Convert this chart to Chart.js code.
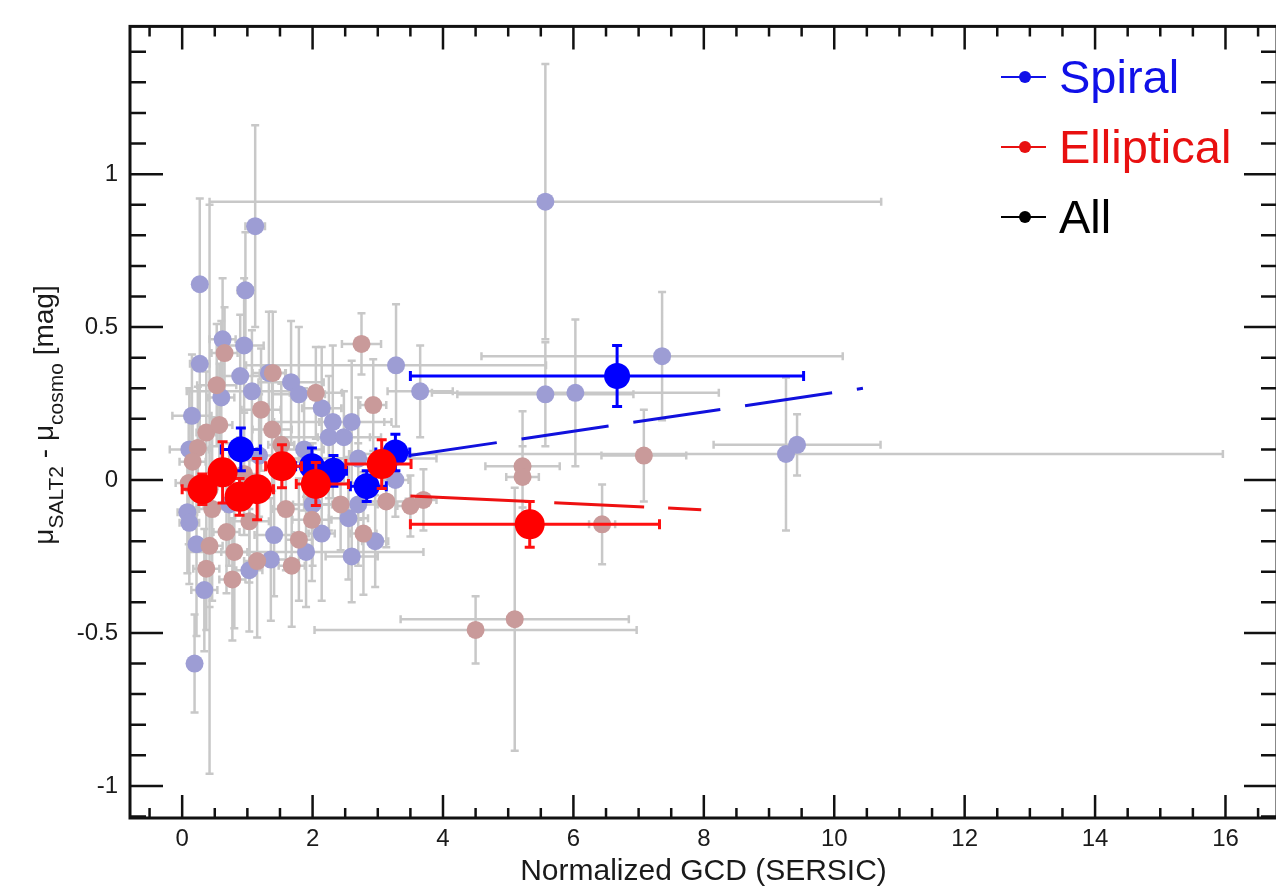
<!DOCTYPE html>
<html>
<head>
<meta charset="utf-8">
<script src="https://cdn.jsdelivr.net/npm/chart.js@4.4.1/dist/chart.umd.min.js"></script>
<style>
  html, body { margin: 0; padding: 0; background: #fff; overflow: hidden; }
  #wrap { width: 1292px; height: 890px; }
</style>
</head>
<body>
<div id="wrap"><canvas id="chart" width="1292" height="890"></canvas></div>
<script>
// individual spiral hosts (x, y, symmetric errors)
const spiralX = [5.57, 1.12, 0.27, 0.97, 0.62, 0.95, 0.27, 0.89, 1.07, 1.67, 1.79, 2.14, 3.28, 3.65, 0.15, 0.60, 2.31, 2.60, 2.25, 2.48, 1.87, 3.27, 0.08, 1.41, 2.14, 2.60, 2.96, 2.55, 0.34, 0.19, 0.22, 1.36, 1.90, 1.03, 5.57, 6.03, 7.36, 9.26, 9.43, 0.11, 1.33, 1.18, 2.70, 2.70, 0.72, 2.00, 0.11];
const spiralY = [0.91, 0.83, 0.64, 0.62, 0.46, 0.44, 0.38, 0.34, 0.29, 0.32, 0.28, 0.235, 0.375, 0.29, 0.21, 0.27, 0.19, 0.19, 0.14, 0.14, 0.10, 0.00, -0.105, -0.18, -0.175, -0.25, -0.20, -0.125, -0.36, -0.60, -0.21, -0.26, -0.235, -0.295, 0.28, 0.285, 0.405, 0.085, 0.115, 0.10, 0.35, 0.08, 0.07, -0.08, -0.08, -0.08, -0.14];
const spiralXErr = [5.15, 0.15, 0.10, 0.12, 0.20, 0.30, 0.15, 0.30, 1.00, 0.50, 0.40, 0.30, 2.30, 0.50, 0.30, 0.20, 0.90, 0.50, 0.80, 0.40, 0.30, 0.20, 0.15, 0.30, 0.20, 0.40, 0.20, 0.30, 0.20, 0.05, 0.10, 0.30, 1.80, 0.20, 1.35, 2.20, 2.77, 6.70, 1.28, 0.30, 0.25, 0.30, 1.20, 0.30, 0.25, 0.30, 0.15];
const spiralYErr = [0.45, 0.33, 0.28, 0.19, 0.20, 0.22, 0.25, 0.20, 0.20, 0.20, 0.22, 0.20, 0.20, 0.15, 0.20, 0.25, 0.25, 0.20, 0.20, 0.15, 0.20, 0.12, 0.20, 0.20, 0.22, 0.15, 0.15, 0.20, 0.20, 0.16, 0.30, 0.20, 0.18, 0.20, 0.17, 0.24, 0.21, 0.25, 0.10, 0.20, 0.20, 0.20, 0.20, 0.20, 0.20, 0.20, 0.20];

// individual elliptical hosts
const ellipX = [2.75, 0.65, 0.53, 1.39, 1.21, 2.05, 2.93, 0.37, 0.24, 0.16, 1.38, 1.52, 0.46, 1.59, 1.99, 3.13, 3.50, 3.70, 2.43, 0.68, 1.03, 1.79, 2.78, 0.80, 0.42, 1.68, 0.37, 0.77, 1.15, 4.50, 5.10, 5.22, 5.22, 6.44, 7.08, 0.42, 0.95, 2.25, 0.10, 0.57];
const ellipY = [0.445, 0.415, 0.31, 0.35, 0.23, 0.285, 0.245, 0.155, 0.105, 0.06, 0.165, 0.115, -0.095, -0.095, -0.13, -0.07, -0.085, -0.065, -0.08, -0.17, -0.135, -0.195, -0.175, -0.235, -0.215, -0.28, -0.29, -0.325, -0.265, -0.49, -0.455, 0.045, 0.01, -0.145, 0.08, -0.03, 0.02, 0.035, -0.01, 0.18];
const ellipXErr = [0.30, 0.20, 0.30, 0.20, 0.30, 0.40, 0.20, 0.15, 0.20, 0.20, 0.30, 0.20, 0.20, 0.20, 0.30, 0.30, 0.20, 0.20, 0.30, 0.20, 0.30, 0.20, 0.20, 0.20, 0.20, 0.20, 0.20, 0.20, 0.20, 2.47, 1.75, 0.57, 0.25, 0.20, 0.65, 0.10, 0.20, 0.30, 0.20, 0.20];
const ellipYErr = [0.10, 0.15, 0.20, 0.20, 0.20, 0.15, 0.15, 0.20, 0.20, 0.15, 0.20, 0.20, 0.30, 0.20, 0.20, 0.15, 0.10, 0.10, 0.15, 0.20, 0.20, 0.20, 0.20, 0.25, 0.20, 0.20, 0.20, 0.20, 0.25, 0.11, 0.43, 0.18, 0.10, 0.13, 0.15, 0.93, 0.20, 0.20, 0.20, 0.20];

// binned means
const spiralBinX = [0.90, 1.99, 2.32, 2.83, 3.27, 6.67];
const spiralBinY = [0.10, 0.045, 0.03, -0.02, 0.09, 0.34];
const spiralBinXLo = [0.30, 0.25, 0.20, 0.25, 0.30, 3.17];
const spiralBinXHi = [0.30, 0.25, 0.20, 0.30, 0.22, 2.86];
const spiralBinYErr = [0.07, 0.06, 0.05, 0.05, 0.06, 0.10];

const ellipBinX = [0.31, 0.62, 0.88, 1.15, 1.53, 2.05, 3.06, 5.33];
const ellipBinY = [-0.03, 0.025, -0.055, -0.03, 0.045, -0.013, 0.052, -0.145];
const ellipBinXLo = [0.31, 0.12, 0.13, 0.15, 0.25, 0.30, 0.55, 1.83];
const ellipBinXHi = [0.12, 0.13, 0.15, 0.25, 0.30, 0.50, 0.45, 1.99];
const ellipBinYErr = [0.05, 0.10, 0.06, 0.10, 0.07, 0.07, 0.08, 0.075];

// linear fits
const spiralFitX = [3.49, 10.44];
const spiralFitY = [0.08, 0.30];
const ellipFitX = [3.50, 7.96];
const ellipFitY = [-0.052, -0.097];

// axes
const xMajorTicks = [0, 2, 4, 6, 8, 10, 12, 14, 16];
const yMajorTicks = [-1, -0.5, 0, 0.5, 1];
const legendLabels = ['Spiral', 'Elliptical', 'All'];
const legendColors = ['#1010e8', '#e81010', '#000000'];

const FONT = "'Liberation Sans', Arial, Helvetica, sans-serif";

function pts(xs, ys) {
    return xs.map((x, i) => ({ x: x, y: ys[i] }));
}

// error bars drawn through the scales
function drawErrorBars(chart, ds) {
    const eb = ds.errorBars;
    if (!eb) return;
    const { ctx, chartArea: a } = chart;
    const sx = chart.scales.x, sy = chart.scales.y;
    ctx.save();
    ctx.beginPath();
    ctx.rect(a.left, a.top, a.right - a.left, a.bottom - a.top);
    ctx.clip();
    ctx.strokeStyle = eb.color;
    ctx.lineWidth = eb.width;
    ctx.beginPath();
    ds.data.forEach((p, k) => {
        const px = sx.getPixelForValue(p.x);
        const py = sy.getPixelForValue(p.y);
        const x0 = sx.getPixelForValue(p.x - eb.xlo[k]);
        const x1 = sx.getPixelForValue(p.x + eb.xhi[k]);
        const y0 = sy.getPixelForValue(p.y - eb.y[k]);
        const y1 = sy.getPixelForValue(p.y + eb.y[k]);
        const c = eb.cap;
        ctx.moveTo(x0, py); ctx.lineTo(x1, py);
        ctx.moveTo(x0, py - c); ctx.lineTo(x0, py + c);
        ctx.moveTo(x1, py - c); ctx.lineTo(x1, py + c);
        ctx.moveTo(px, y0); ctx.lineTo(px, y1);
        ctx.moveTo(px - c, y0); ctx.lineTo(px + c, y0);
        ctx.moveTo(px - c, y1); ctx.lineTo(px + c, y1);
    });
    ctx.stroke();
    ctx.restore();
}

const errorBarPlugin = {
    id: 'errorBars',
    beforeDatasetsDraw(chart) {
        chart.data.datasets.forEach(ds => {
            if (ds.errorBars && ds.errorBars.behind) drawErrorBars(chart, ds);
        });
    },
    beforeDatasetDraw(chart, args) {
        const ds = chart.data.datasets[args.index];
        if (ds.errorBars && !ds.errorBars.behind) drawErrorBars(chart, ds);
    }
};

// frame with inward ticks on all four sides, y title, legend
const framePlugin = {
    id: 'frame',
    afterDatasetsDraw(chart) {
        const { ctx, chartArea: a } = chart;
        const sx = chart.scales.x, sy = chart.scales.y;
        ctx.save();
        ctx.strokeStyle = '#111';
        ctx.lineWidth = 2.5;
        ctx.beginPath();
        for (let v = -0.5; v <= 16.75; v += 0.5) {
            const px = sx.getPixelForValue(v);
            const len = xMajorTicks.includes(v) ? 23 : 10;
            ctx.moveTo(px, a.bottom); ctx.lineTo(px, a.bottom - len);
            ctx.moveTo(px, a.top); ctx.lineTo(px, a.top + len);
        }
        for (let i = -11; i <= 14; i++) {
            const v = i / 10;
            const py = sy.getPixelForValue(v);
            const len = (i % 5 === 0) ? 33 : 16;
            ctx.moveTo(a.left, py); ctx.lineTo(a.left + len, py);
            ctx.moveTo(a.right, py); ctx.lineTo(a.right - len, py);
        }
        ctx.stroke();
        ctx.lineWidth = 3;
        ctx.strokeRect(a.left, a.top, a.right - a.left, a.bottom - a.top);
        ctx.restore();
    },
    afterDraw(chart) {
        const ctx = chart.ctx;
        ctx.save();
        // y axis title with subscripts
        const parts = [['\u03bc', 0], ['SALT2', 1], [' - ', 0], ['\u03bc', 0], ['cosmo', 1], [' [mag]', 0]];
        const mainFont = '28px ' + FONT, subFont = '21px ' + FONT;
        let total = 0;
        parts.forEach(p => { ctx.font = p[1] ? subFont : mainFont; total += ctx.measureText(p[0]).width; });
        ctx.translate(53, 415);
        ctx.rotate(-Math.PI / 2);
        ctx.fillStyle = '#1a1a1a';
        ctx.textBaseline = 'alphabetic';
        let u = -total / 2;
        parts.forEach(p => {
            ctx.font = p[1] ? subFont : mainFont;
            ctx.fillText(p[0], u, p[1] ? 10 : 0);
            u += ctx.measureText(p[0]).width;
        });
        ctx.restore();

        // legend
        ctx.save();
        ctx.font = '47px ' + FONT;
        ctx.textBaseline = 'alphabetic';
        legendLabels.forEach((lab, i) => {
            const cy = 77 + i * 70;
            ctx.strokeStyle = legendColors[i];
            ctx.fillStyle = legendColors[i];
            ctx.lineWidth = 2;
            ctx.beginPath();
            ctx.moveTo(1001, cy); ctx.lineTo(1046, cy);
            ctx.stroke();
            ctx.beginPath();
            ctx.arc(1025, cy, 6, 0, Math.PI * 2);
            ctx.fill();
            ctx.fillText(lab, 1059, cy + 16);
        });
        ctx.restore();
    }
};

const ctx = document.getElementById('chart').getContext('2d');
new Chart(ctx, {
    type: 'scatter',
    data: {
        datasets: [
            {
                label: 'Elliptical bins',
                data: pts(ellipBinX, ellipBinY),
                backgroundColor: '#ff0000',
                pointRadius: 15,
                pointBorderWidth: 0,
                order: 0,
                errorBars: { xlo: ellipBinXLo, xhi: ellipBinXHi, y: ellipBinYErr, color: '#ff1010', width: 3, cap: 5, behind: false }
            },
            {
                label: 'Spiral bins',
                data: pts(spiralBinX, spiralBinY),
                backgroundColor: '#0000ff',
                pointRadius: 13,
                pointBorderWidth: 0,
                order: 1,
                errorBars: { xlo: spiralBinXLo, xhi: spiralBinXHi, y: spiralBinYErr, color: '#0000ff', width: 3, cap: 5, behind: false }
            },
            {
                label: 'Elliptical fit',
                data: pts(ellipFitX, ellipFitY),
                showLine: true,
                borderColor: '#ee1111',
                borderWidth: 3,
                borderDash: [120, 24, 90, 24],
                pointRadius: 0,
                order: 2
            },
            {
                label: 'Spiral fit',
                data: pts(spiralFitX, spiralFitY),
                showLine: true,
                borderColor: '#1111dd',
                borderWidth: 3,
                borderDash: [88, 25],
                pointRadius: 0,
                order: 3
            },
            {
                label: 'Elliptical',
                data: pts(ellipX, ellipY),
                backgroundColor: '#c99a9a',
                pointRadius: 9,
                pointBorderWidth: 0,
                order: 4,
                errorBars: { xlo: ellipXErr, xhi: ellipXErr, y: ellipYErr, color: '#c8c8c8', width: 2.5, cap: 4, behind: true }
            },
            {
                label: 'Spiral',
                data: pts(spiralX, spiralY),
                backgroundColor: '#9d9dd4',
                pointRadius: 9,
                pointBorderWidth: 0,
                order: 5,
                errorBars: { xlo: spiralXErr, xhi: spiralXErr, y: spiralYErr, color: '#c8c8c8', width: 2.5, cap: 4, behind: true }
            }
        ]
    },
    options: {
        responsive: false,
        animation: false,
        devicePixelRatio: 1,
        events: [],
        layout: { padding: { top: 17, right: 8, left: 0, bottom: 0 } },
        plugins: {
            legend: { display: false },
            tooltip: { enabled: false }
        },
        scales: {
            x: {
                type: 'linear',
                min: -0.8,
                max: 16.79,
                grid: { display: false, drawTicks: false },
                border: { display: false },
                afterBuildTicks: (scale) => { scale.ticks = xMajorTicks.map(v => ({ value: v })); },
                afterFit: (scale) => { scale.height = 72; },
                ticks: { font: { family: FONT, size: 24 }, color: '#1a1a1a', padding: 7, maxRotation: 0, callback: (v) => String(v) },
                title: {
                    display: true,
                    text: 'Normalized GCD (SERSIC)',
                    font: { family: FONT, size: 30 },
                    color: '#1a1a1a',
                    padding: { top: 0, bottom: 0 }
                }
            },
            y: {
                type: 'linear',
                min: -1.105,
                max: 1.483,
                grid: { display: false, drawTicks: false },
                border: { display: false },
                afterBuildTicks: (scale) => { scale.ticks = yMajorTicks.map(v => ({ value: v })); },
                afterFit: (scale) => { scale.width = 130; },
                ticks: { font: { family: FONT, size: 24 }, color: '#1a1a1a', padding: 12, callback: (v) => String(v) }
            }
        }
    },
    plugins: [errorBarPlugin, framePlugin]
});
</script>
</body>
</html>
